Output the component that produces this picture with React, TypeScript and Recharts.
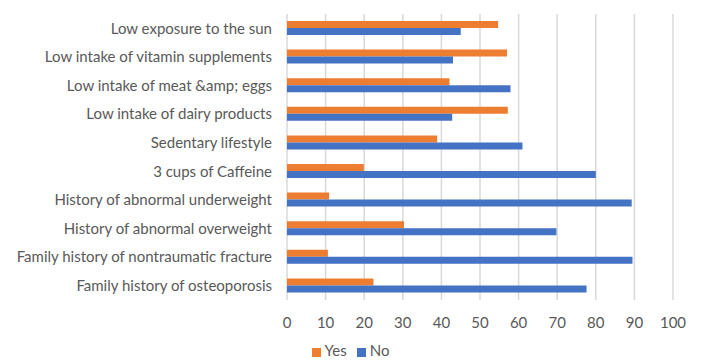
import { BarChart, Bar, XAxis, YAxis, CartesianGrid, Legend } from "recharts";

const categories = [
  "Low exposure to the sun",
  "Low intake of vitamin supplements",
  "Low intake of meat &amp; eggs",
  "Low intake of dairy products",
  "Sedentary lifestyle",
  "3 cups of Caffeine",
  "History of abnormal underweight",
  "History of abnormal overweight",
  "Family history of nontraumatic fracture",
  "Family history of osteoporosis",
];
const yesValues = [54.7, 57.0, 42.1, 57.2, 38.9, 19.9, 10.9, 30.3, 10.6, 22.4];
const noValues = [45.0, 43.0, 57.9, 42.8, 61.0, 80.0, 89.3, 69.8, 89.5, 77.6];
const xTicks = [0, 10, 20, 30, 40, 50, 60, 70, 80, 90, 100];
const seriesOrder = ["Yes", "No"];

const data = categories.map((name, i) => ({ name, Yes: yesValues[i], No: noValues[i] }));

const textColor = "#595959";
const gridColor = "#d9d9d9";
const font = "Lato, 'Open Sans', sans-serif";

export default function App() {
  return (
    <div style={{ position: "absolute", left: 0, top: 0, background: "#fff" }}>
      <BarChart
        width={701}
        height={363}
        data={data}
        layout="vertical"
        margin={{ top: 14, right: 28, bottom: 0, left: 0 }}
        barSize={7}
        barGap={0}
        style={{ fontFamily: font }}
      >
        <CartesianGrid horizontal={false} stroke={gridColor} strokeWidth={1.5} />
        <XAxis
          type="number"
          domain={[0, 100]}
          ticks={xTicks}
          axisLine={false}
          tickLine={false}
          tickMargin={11}
          height={36}
          tick={{ fill: textColor, fontSize: 15 }}
        />
        <YAxis
          type="category"
          dataKey="name"
          width={287}
          axisLine={false}
          tickLine={false}
          tickMargin={9}
          interval={0}
          tick={{ fill: textColor, fontSize: 15 }}
        />
        <Legend
          verticalAlign="bottom"
          height={27}
          iconType="square"
          iconSize={9}
          itemSorter={(item: any) => seriesOrder.indexOf(item.value)}
          wrapperStyle={{ fontSize: 15, color: textColor, bottom: -5, left: 19 }}
          formatter={(v) => <span style={{ color: textColor }}>{v}</span>}
        />
        <Bar dataKey="Yes" fill="#ED7D31" isAnimationActive={false} />
        <Bar dataKey="No" fill="#4472C4" isAnimationActive={false} />
      </BarChart>
    </div>
  );
}
